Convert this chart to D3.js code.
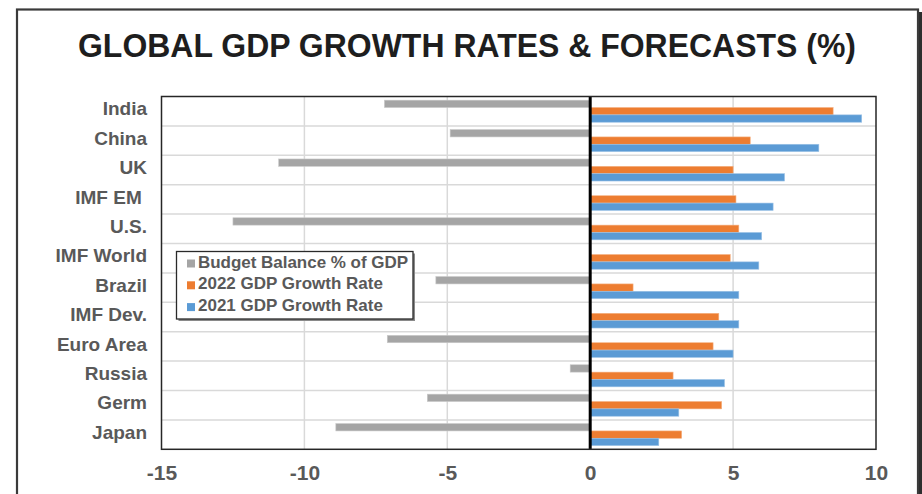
<!DOCTYPE html>
<html>
<head>
<meta charset="utf-8">
<script src="https://cdn.jsdelivr.net/npm/d3@7/dist/d3.min.js"></script>
<style>
  html, body { margin: 0; padding: 0; background: #ffffff; }
  svg { display: block; font-family: "Liberation Sans", Arial, Helvetica, sans-serif; }
</style>
</head>
<body>
<svg id="chart" width="922" height="494"></svg>
<script>
// Countries / aggregates, top to bottom
const categories = ["India", "China", "UK", "IMF EM ", "U.S.", "IMF World", "Brazil",
                    "IMF Dev.", "Euro Area", "Russia", "Germ", "Japan"];
// Budget balance as % of GDP (null where not reported)
const budgetBalance = [-7.2, -4.9, -10.9, null, -12.5, null, -5.4, null, -7.1, -0.7, -5.7, -8.9];
// GDP growth rates (%)
const growth2022 = [8.5, 5.6, 5.0, 5.1, 5.2, 4.9, 1.5, 4.5, 4.3, 2.9, 4.6, 3.2];
const growth2021 = [9.5, 8.0, 6.8, 6.4, 6.0, 5.9, 5.2, 5.2, 5.0, 4.7, 3.1, 2.4];
// Axis ticks
const xTicks = [-15, -10, -5, 0, 5, 10];
const xDomain = [-15, 10];

const seriesNames = ["Budget Balance % of GDP", "2022 GDP Growth Rate", "2021 GDP Growth Rate"];
const seriesColors = ["#A5A5A5", "#ED7D31", "#5B9BD5"];
const seriesEdge = ["#c9c9c9", "#f4b183", "#9dc3e6"];
const seriesValues = [budgetBalance, growth2022, growth2021];

const svg = d3.select("#chart");
const textGray = "#595959";

// Outer frame
svg.append("rect")
  .attr("x", 17).attr("y", 9.5).attr("width", 901).attr("height", 520)
  .attr("fill", "none").attr("stroke", "#3a3a3a").attr("stroke-width", 2.2);
svg.append("line")
  .attr("x1", 920.5).attr("x2", 920.5).attr("y1", 12).attr("y2", 494)
  .attr("stroke", "#2e2e2e").attr("stroke-width", 3);

// Title
svg.append("text")
  .attr("x", 467).attr("y", 57)
  .attr("text-anchor", "middle")
  .attr("font-size", 32.5).attr("font-weight", "bold").attr("fill", "#1e1e1e")
  .attr("textLength", 778).attr("lengthAdjust", "spacingAndGlyphs")
  .text("GLOBAL GDP GROWTH RATES & FORECASTS (%)");

// Scales
const plot = { left: 161.5, right: 876, top: 96.5, bottom: 449.3 };
const x = d3.scaleLinear().domain(xDomain).range([plot.left, plot.right]);
const y = d3.scaleBand().domain(categories).range([plot.top, plot.bottom])
  .paddingInner(0.25).paddingOuter(0.125);
const ySub = d3.scaleBand().domain(d3.range(seriesNames.length)).range([0, y.bandwidth()]);
const step = y.step();
const gapHalf = (step - y.bandwidth()) / 2;

const g = svg.append("g");

// Vertical gridlines
g.selectAll("line.vgrid")
  .data(xTicks.filter(t => t !== 0 && t !== xDomain[0] && t !== xDomain[1]))
  .join("line").attr("class", "vgrid")
  .attr("x1", d => x(d)).attr("x2", d => x(d))
  .attr("y1", plot.top).attr("y2", plot.bottom)
  .attr("stroke", "#d9d9d9").attr("stroke-width", 1.5);

// Horizontal gridlines at category boundaries
g.selectAll("line.hgrid")
  .data(categories.slice(1))
  .join("line").attr("class", "hgrid")
  .attr("x1", plot.left).attr("x2", plot.right)
  .attr("y1", d => y(d) - gapHalf).attr("y2", d => y(d) - gapHalf)
  .attr("stroke", "#d9d9d9").attr("stroke-width", 1.5);

// Bars
seriesValues.forEach((vals, si) => {
  const rows = categories.map((c, i) => ({ c, v: vals[i] })).filter(d => d.v !== null);
  g.selectAll(null).data(rows).join("rect")
    .attr("x", d => Math.min(x(0), x(d.v)))
    .attr("width", d => Math.abs(x(d.v) - x(0)))
    .attr("y", d => y(d.c) + ySub(si))
    .attr("height", ySub.bandwidth())
    .attr("fill", seriesColors[si])
    .attr("stroke", seriesEdge[si]).attr("stroke-width", 0.6);
});

// Zero line
g.append("line")
  .attr("x1", x(0)).attr("x2", x(0))
  .attr("y1", plot.top).attr("y2", plot.bottom)
  .attr("stroke", "#000").attr("stroke-width", 3);

// Plot area border
g.append("rect")
  .attr("x", plot.left).attr("y", plot.top)
  .attr("width", plot.right - plot.left).attr("height", plot.bottom - plot.top)
  .attr("fill", "none").attr("stroke", "#262626").attr("stroke-width", 1.5);

// Category labels
const yAxis = d3.axisLeft(y).tickSize(0).tickPadding(0);
const yAxisG = svg.append("g").attr("transform", `translate(147,0)`).call(yAxis);
yAxisG.select(".domain").remove();
yAxisG.selectAll("text")
  .attr("font-size", 19).attr("font-weight", "bold").attr("fill", textGray)
  .attr("font-family", "'Liberation Sans', Arial, sans-serif")
  .attr("dy", null).attr("y", 4.2)
  .style("white-space", "pre");

// X tick labels
const xAxis = d3.axisBottom(x).tickValues(xTicks).tickSize(0).tickPadding(0).tickFormat(d3.format("d"));
const xAxisG = svg.append("g").attr("transform", `translate(0,${plot.bottom})`).call(xAxis);
xAxisG.select(".domain").remove();
xAxisG.selectAll("text")
  .attr("font-size", 21).attr("font-weight", "bold").attr("fill", textGray)
  .attr("font-family", "'Liberation Sans', Arial, sans-serif")
  .attr("dy", null).attr("y", 30.5);
// hyphen-minus like the source labels
xAxisG.selectAll("text").text(d => String(d));

// Legend
const lg = svg.append("g").attr("transform", "translate(176.5,251.5)");
lg.append("rect").attr("x", 2).attr("y", 2).attr("width", 236.5).attr("height", 67.5)
  .attr("fill", "#8a8a8a");
lg.append("rect").attr("x", 0).attr("y", 0).attr("width", 236.5).attr("height", 67.5)
  .attr("fill", "#fff").attr("stroke", "#2a2a2a").attr("stroke-width", 1.3);
const items = lg.selectAll("g.item").data(seriesNames).join("g").attr("class", "item")
  .attr("transform", (d, i) => `translate(0,${i * 21.8})`);
items.append("rect")
  .attr("x", 10.5).attr("y", 8).attr("width", 8).attr("height", 8)
  .attr("fill", (d, i) => seriesColors[i]);
items.append("text")
  .attr("x", 21.5).attr("y", 16)
  .attr("font-size", 17).attr("font-weight", "bold").attr("fill", textGray)
  .attr("textLength", (d, i) => i === 0 ? 210 : null)
  .text(d => d);
</script>
</body>
</html>
